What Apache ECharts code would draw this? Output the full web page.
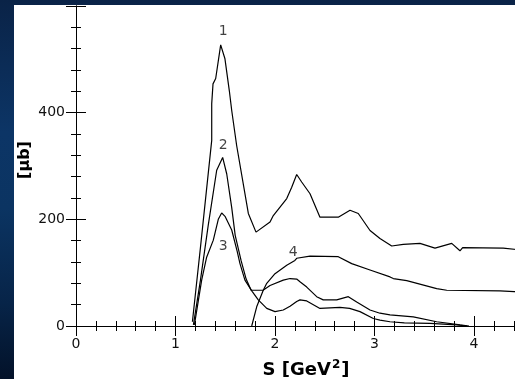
<!DOCTYPE html>
<html><head><meta charset="utf-8">
<script src="https://cdn.jsdelivr.net/npm/echarts/dist/echarts.min.js"></script>
<style>
html,body{margin:0;padding:0;width:515px;height:379px;overflow:hidden;}
body{background:linear-gradient(180deg,#0a2347 0%,#0c3566 35%,#0b3462 55%,#072448 80%,#031229 100%);position:relative;}
#chart{position:absolute;left:14px;top:5px;width:570px;height:374px;background:#fff;}
</style></head><body><div id="chart"></div>
<script>
// S [GeV^2] , cross section [mub]
const curve1 = [[1.17,8],[1.25,146],[1.364,348],[1.364,417],[1.377,454],[1.404,464],[1.454,527],[1.497,501],[1.541,441],[1.565,404],[1.615,338],[1.732,211],[1.809,176],[1.95,195],[1.983,207],[2.118,239],[2.168,260],[2.218,284],[2.268,270],[2.352,248],[2.452,204],[2.636,204],[2.754,217],[2.837,211],[2.955,179],[3.055,164],[3.173,150],[3.289,153],[3.457,155],[3.608,146],[3.776,155],[3.859,141],[3.886,147],[4.294,146],[4.31,143],[4.45,143]];
const curve2 = [[1.18,2],[1.25,85],[1.33,190],[1.414,292],[1.474,316],[1.515,285],[1.565,222],[1.6,170],[1.66,122],[1.71,88],[1.76,67],[1.88,67],[1.95,76],[2.083,86],[2.151,89],[2.218,88],[2.251,83],[2.319,73],[2.419,55],[2.485,49],[2.62,49],[2.737,55],[2.821,45],[2.955,30],[3.055,24],[3.156,21],[3.39,17],[3.625,8],[3.859,2],[3.95,0]];
const curve3 = [[1.19,2],[1.263,86],[1.313,129],[1.38,161],[1.43,200],[1.464,212],[1.5,205],[1.565,180],[1.62,140],[1.648,117],[1.698,86],[1.77,65],[1.832,49],[1.917,33],[2.0,27],[2.083,30],[2.151,37],[2.218,46],[2.251,49],[2.319,47],[2.452,33],[2.653,35],[2.75,33],[2.854,27],[2.988,14],[3.055,11],[3.156,8],[3.3,6],[3.558,5],[3.826,2],[3.93,0]];
const curve4 = [[1.766,0],[1.816,36],[1.882,67],[1.917,80],[2.0,98],[2.118,114],[2.2,123],[2.218,127],[2.352,131],[2.636,130],[2.771,117],[2.955,105],[3.156,92],[3.189,89],[3.324,85],[3.625,70],[3.726,67],[4.261,66],[4.45,64]];
const curves = [curve1, curve2, curve3, curve4];
const curveNames = ['1','2','3','4'];
const curveLabelAt = [[1.48,552],[1.48,339],[1.48,150],[2.184,138]];
const yTickLabels = ['0','200','400'];
const xTickLabels = ['0','1','2','3','4'];
const xTitle = 'S [GeV';
const yTitle = '[μb]';

const chart = echarts.init(document.getElementById('chart'), null, {renderer:'canvas'});
const F = 'DejaVu Sans';
const tickCommon = {
  axisLine:{show:true,lineStyle:{color:'#000',width:1}},
  axisTick:{show:true,inside:false,length:-10,lineStyle:{color:'#000',width:1}},
  minorTick:{show:true,splitNumber:5,length:-5,lineStyle:{color:'#000',width:1}},
  splitLine:{show:false}, minorSplitLine:{show:false}
};
const option = {
  animation:false,
  backgroundColor:'#fff',
  grid:{left:62,top:1,width:497.5,height:320,containLabel:false},
  xAxis:[
    Object.assign({type:'value',position:'bottom',min:0,max:5,interval:1,
      axisLabel:{show:true,color:'#111',fontFamily:F,fontSize:14,margin:11,showMaxLabel:false,
        formatter:v=>{const i=xTickLabels.indexOf(String(v));return i>=0?xTickLabels[i]:'';}}},tickCommon),
    Object.assign({type:'value',position:'top',min:0,max:5,interval:1,axisLabel:{show:false}},tickCommon)
  ],
  yAxis:[
    Object.assign({type:'value',position:'left',min:0,max:600,interval:200,
      axisLabel:{show:true,color:'#111',fontFamily:F,fontSize:14,margin:11,
        formatter:v=>{const i=yTickLabels.indexOf(String(v));return i>=0?yTickLabels[i]:'';}}},tickCommon),
    Object.assign({type:'value',position:'right',min:0,max:600,interval:200,axisLabel:{show:false}},tickCommon)
  ],
  series: curves.map((c,i)=>({
    type:'line',data:c,showSymbol:false,symbol:'none',
    lineStyle:{color:'#000',width:1.2},z:3
  })).concat([{
    type:'scatter',symbolSize:0,
    data:curveLabelAt.map((p,i)=>({value:p,name:curveNames[i]})),
    label:{show:true,position:'inside',formatter:'{b}',color:'#111',fontFamily:F,fontSize:14},
    z:4
  }]),
  graphic:[
    {type:'text',x:11,y:155,rotation:Math.PI/2,
      style:{text:yTitle,font:'bold 16px "DejaVu Sans"',fill:'#000',align:'center',verticalAlign:'middle'}},
    {type:'text',x:292,y:365,
      style:{text:'{a|'+xTitle+'}{b|2}{a|]}',align:'center',verticalAlign:'middle',
        rich:{a:{fontFamily:F,fontWeight:'bold',fontSize:18,fill:'#000',color:'#000',lineHeight:22},
              b:{fontFamily:F,fontWeight:'bold',fontSize:12,color:'#000',verticalAlign:'top',lineHeight:22,padding:[0,1,8,1]}}}}
  ]
};
chart.setOption(option);
</script></body></html>
